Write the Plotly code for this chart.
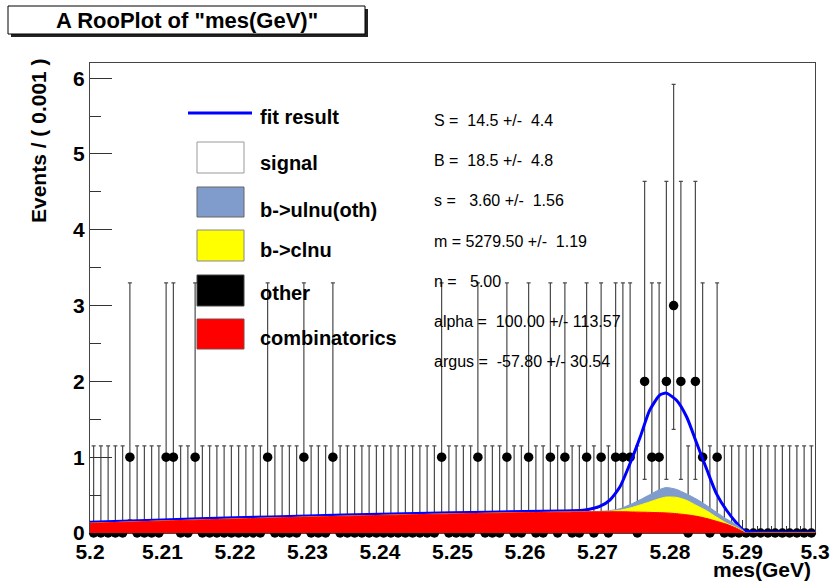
import numpy as np
import plotly.graph_objects as go

# ---------------- data ----------------
# mES histogram: 100 bins of 1 MeV between 5.20 and 5.30 GeV
mes_lo, mes_hi, n_bins = 5.20, 5.30, 100
bin_counts = [
    0, 0, 0, 0, 0, 1, 0, 0, 0, 0,
    1, 1, 0, 0, 1, 0, 0, 0, 0, 0,
    0, 0, 0, 0, 1, 0, 0, 0, 0, 1,
    0, 0, 0, 1, 0, 0, 0, 0, 0, 0,
    0, 0, 0, 0, 0, 0, 0, 0, 1, 0,
    0, 0, 0, 1, 0, 0, 0, 1, 0, 0,
    1, 0, 0, 1, 0, 1, 0, 0, 1, 0,
    1, 0, 1, 1, 1, 0, 2, 1, 1, 2,
    3, 2, 0, 2, 1, 0, 1, 0, 0, 0,
    0, 0, 0, 0, 0, 0, 0, 0, 0, 0,
]
# asymmetric Poisson errors (down / up) for n = 0, 1, 2, 3 entries
poisson_err_lo = [0.0, 0.827, 1.292, 1.633]
poisson_err_hi = [1.148, 2.300, 2.638, 2.918]

# fitted PDF projections (events / 1 MeV), stacked components
curve_x = [5.200, 5.210, 5.220, 5.230, 5.240, 5.250, 5.260, 5.265, 5.268,
           5.2703, 5.2717, 5.2731, 5.2745, 5.2759, 5.2772, 5.2786, 5.2795,
           5.2809, 5.2823, 5.2837, 5.2851, 5.2864, 5.2878, 5.2892, 5.2901,
           5.2905, 5.292, 5.295, 5.300]
fit_total = [0.143, 0.173, 0.200, 0.225, 0.247, 0.267, 0.283, 0.290, 0.300,
             0.350, 0.435, 0.610, 0.920, 1.270, 1.620, 1.820, 1.845,
             1.750, 1.530, 1.180, 0.830, 0.520, 0.300, 0.130, 0.040,
             0.025, 0.010, 0.005, 0.003]
ulnu_top = [0.128, 0.158, 0.185, 0.210, 0.232, 0.252, 0.268, 0.275, 0.278,
            0.285, 0.295, 0.320, 0.375, 0.440, 0.505, 0.575, 0.600,
            0.575, 0.515, 0.445, 0.360, 0.275, 0.185, 0.105, 0.035,
            0.0, 0.0, 0.0, 0.0]
clnu_top = [0.128, 0.158, 0.185, 0.210, 0.232, 0.252, 0.268, 0.275, 0.278,
            0.280, 0.285, 0.300, 0.330, 0.370, 0.410, 0.455, 0.475,
            0.470, 0.430, 0.360, 0.290, 0.210, 0.130, 0.070, 0.020,
            0.0, 0.0, 0.0, 0.0]
combinatoric_top = [0.128, 0.158, 0.185, 0.210, 0.232, 0.252, 0.268, 0.275, 0.278,
                    0.280, 0.280, 0.280, 0.278, 0.275, 0.272, 0.268, 0.265,
                    0.255, 0.240, 0.220, 0.190, 0.155, 0.115, 0.060, 0.015,
                    0.0, 0.0, 0.0, 0.0]

x_tick_vals = [5.20, 5.21, 5.22, 5.23, 5.24, 5.25, 5.26, 5.27, 5.28, 5.29, 5.30]
x_tick_text = ["5.2", "5.21", "5.22", "5.23", "5.24", "5.25", "5.26", "5.27", "5.28", "5.29", "5.3"]
y_tick_vals = [0, 1, 2, 3, 4, 5, 6]

legend_labels = ["fit result", "signal", "b->ulnu(oth)", "b->clnu", "other", "combinatorics"]
fit_params = [
    "S =  14.5 +/-  4.4",
    "B =  18.5 +/-  4.8",
    "s =   3.60 +/-  1.56",
    "m = 5279.50 +/-  1.19",
    "n =   5.00",
    "alpha =  100.00 +/- 113.57",
    "argus =  -57.80 +/- 30.54",
]

# ---------------- geometry helpers ----------------
W, H = 830, 583
L, R, T, B = 90, 815, 63, 533


def fx(px):
    return (px - L) / (R - L)


def fy(py):
    return (B - py) / (B - T)


FONT = "Liberation Sans, Arial, Helvetica, sans-serif"

edges = np.linspace(mes_lo, mes_hi, n_bins + 1)
centers = 0.5 * (edges[:-1] + edges[1:])
counts = np.array(bin_counts)
err_lo = np.array([poisson_err_lo[c] for c in counts])
err_hi = np.array([poisson_err_hi[c] for c in counts])

fig = go.Figure()

# data points with Poisson error bars
fig.add_trace(go.Scatter(
    x=centers, y=counts, mode="markers",
    marker=dict(color="black", size=9.5),
    error_y=dict(type="data", symmetric=False, array=err_hi, arrayminus=err_lo,
                 color="#4a4a4a", thickness=1.2, width=2),
    cliponaxis=False, showlegend=False, hoverinfo="skip",
))

# total fit curve
fig.add_trace(go.Scatter(
    x=curve_x, y=fit_total, mode="lines",
    line=dict(color="#0000ff", width=3, shape="spline", smoothing=0.6),
    showlegend=False, hoverinfo="skip",
))

# stacked background components
for top, col in [(ulnu_top, "#7f9ccc"), (clnu_top, "#ffff00"), (combinatoric_top, "#ff0000")]:
    fig.add_trace(go.Scatter(
        x=curve_x, y=top, mode="lines", fill="tozeroy", fillcolor=col,
        line=dict(color=col, width=1, shape="spline", smoothing=0.6),
        showlegend=False, hoverinfo="skip",
    ))

shapes = []
annotations = []

# title box with drop shadow
shapes.append(dict(type="rect", xref="paper", yref="paper",
                   x0=fx(11), x1=fx(368), y0=fy(9), y1=fy(37),
                   fillcolor="#222222", line=dict(width=0), layer="above"))
shapes.append(dict(type="rect", xref="paper", yref="paper",
                   x0=fx(8), x1=fx(365), y0=fy(6), y1=fy(34),
                   fillcolor="white", line=dict(color="black", width=1), layer="above"))
annotations.append(dict(xref="paper", yref="paper", x=fx(187), y=fy(21),
                        text='A RooPlot of "mes(GeV)"', showarrow=False,
                        xanchor="center", yanchor="middle",
                        font=dict(family=FONT, size=22, color="black", weight="bold")))

# axis titles
annotations.append(dict(xref="paper", yref="paper", x=fx(38), y=fy(141),
                        text="Events / ( 0.001 )", showarrow=False, textangle=-90,
                        xanchor="center", yanchor="middle",
                        font=dict(family=FONT, size=21, color="black", weight="bold")))
annotations.append(dict(xref="paper", yref="paper", x=fx(813), y=fy(569),
                        text="mes(GeV)", showarrow=False,
                        xanchor="right", yanchor="middle",
                        font=dict(family=FONT, size=21, color="black", weight="bold")))

# legend
legend_text_y = [117, 163, 210, 250, 293, 338]
legend_boxes = [
    (142, 173, "white", "#999999"),
    (187, 217, "#7f9ccc", "#666666"),
    (230, 261, "#ffff00", "#888888"),
    (275, 306, "black", "#444444"),
    (319, 349, "#ff0000", "#884444"),
]
shapes.append(dict(type="line", xref="paper", yref="paper",
                   x0=fx(188), x1=fx(252), y0=fy(113), y1=fy(113),
                   line=dict(color="#0000ff", width=3), layer="above"))
for (y0, y1, fc, lc) in legend_boxes:
    shapes.append(dict(type="rect", xref="paper", yref="paper",
                       x0=fx(197), x1=fx(244), y0=fy(y0), y1=fy(y1),
                       fillcolor=fc, line=dict(color=lc, width=1), layer="above"))
for label, ty in zip(legend_labels, legend_text_y):
    annotations.append(dict(xref="paper", yref="paper", x=fx(258), y=fy(ty),
                            text=label, showarrow=False,
                            xanchor="left", yanchor="middle",
                            font=dict(family=FONT, size=20, color="black", weight="bold")))

# fit parameter box
for i, line in enumerate(fit_params):
    annotations.append(dict(xref="paper", yref="paper", x=fx(432), y=fy(120.5 + 40.2 * i),
                            text=line.replace(" ", "\u00a0"), showarrow=False,
                            xanchor="left", yanchor="middle",
                            font=dict(family=FONT, size=16, color="black")))

fig.update_layout(
    width=W, height=H, autosize=False,
    margin=dict(l=L, r=W - R, t=T, b=H - B, pad=0, autoexpand=False),
    paper_bgcolor="white", plot_bgcolor="white",
    shapes=shapes, annotations=annotations,
    showlegend=False,
    xaxis=dict(
        range=[mes_lo, mes_hi], tickmode="array", tickvals=x_tick_vals, ticktext=x_tick_text,
        ticks="inside", ticklen=13, tickwidth=1, tickcolor="#333333",
        minor=dict(tickmode="array", tickvals=list(np.round(np.arange(5.202, 5.300, 0.002), 3)),
                   ticks="inside", ticklen=7, tickcolor="#333333"),
        showgrid=False, zeroline=False, automargin=False,
        showline=True, mirror=True, linecolor="#444444", linewidth=1,
        layer="below traces",
        tickfont=dict(family=FONT, size=21, color="black", weight="bold"),
    ),
    yaxis=dict(
        range=[0, 6.2], tickmode="array", tickvals=y_tick_vals,
        ticks="inside", ticklen=22, tickwidth=1, tickcolor="#333333",
        minor=dict(tickmode="array", tickvals=[0.5, 1.5, 2.5, 3.5, 4.5, 5.5],
                   ticks="inside", ticklen=11, tickcolor="#333333"),
        showgrid=False, zeroline=False, automargin=False,
        showline=True, mirror=True, linecolor="#444444", linewidth=1,
        tickfont=dict(family=FONT, size=21, color="black", weight="bold"),
    ),
)

fig.write_html("out.html")
